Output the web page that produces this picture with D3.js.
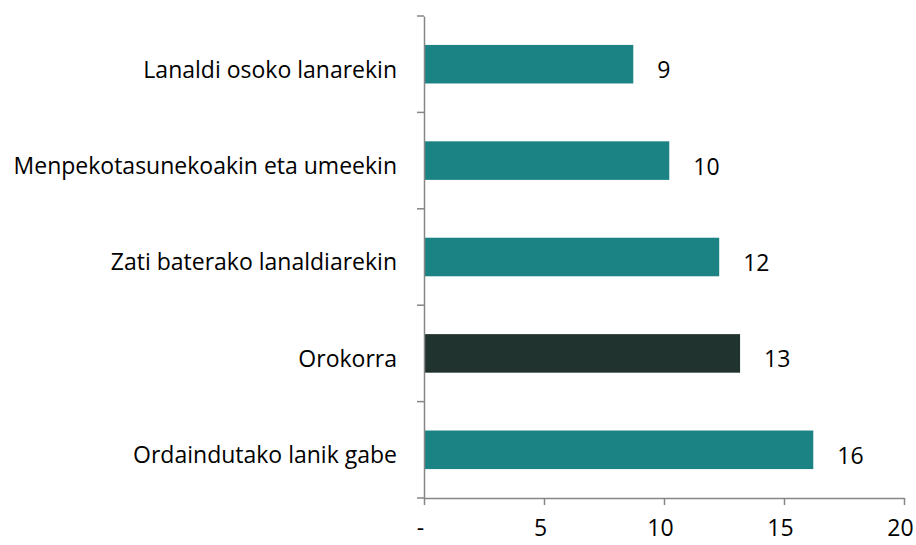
<!DOCTYPE html>
<html>
<head>
<meta charset="utf-8">
<script src="https://cdn.jsdelivr.net/npm/d3@7"></script>
<style>
  body { margin: 0; background: #fff; }
  text { font-family: "Open Sans", sans-serif; fill: #000; }
</style>
</head>
<body>
<script>
// chart data
var categories = ["Lanaldi osoko lanarekin", "Menpekotasunekoakin eta umeekin", "Zati baterako lanaldiarekin", "Orokorra", "Ordaindutako lanik gabe"];
var values = [8.72, 10.22, 12.3, 13.17, 16.22];
var highlight = [false, false, false, true, false];
var xTicks = [0, 5, 10, 15, 20];
var xTickLabels = ["-", "5", "10", "15", "20"];

var width = 916, height = 545;
var margin = {top: 16, right: 12, bottom: 47, left: 424};
var fontSize = "23px";

var svg = d3.select("body").append("svg")
  .attr("width", width)
  .attr("height", height);

var x = d3.scaleLinear().domain([0, 20]).range([margin.left, 904]);
var y = d3.scaleBand().domain(categories).range([margin.top, height - margin.bottom])
  .paddingInner(0.6).paddingOuter(0.3);

var data = categories.map(function(c, i) { return {cat: c, val: values[i], hl: highlight[i]}; });

// bars
svg.selectAll("rect.bar")
  .data(data)
  .enter().append("rect")
  .attr("class", "bar")
  .attr("x", x(0))
  .attr("y", function(d) { return y(d.cat); })
  .attr("width", function(d) { return x(d.val) - x(0); })
  .attr("height", y.bandwidth())
  .attr("fill", function(d) { return d.hl ? "#21332e" : "#1c8385"; });

// value labels
svg.selectAll("text.val")
  .data(data)
  .enter().append("text")
  .attr("class", "val")
  .attr("x", function(d) { return x(d.val) + 24; })
  .attr("y", function(d) { return y(d.cat) + y.bandwidth() / 2 + 6; })
  .attr("dy", "0.35em")
  .style("font-size", fontSize)
  .text(function(d) { return d3.format(".0f")(d.val); });

// y axis (categories)
var yAxis = d3.axisLeft(y).tickSize(0).tickPadding(27);
var gy = svg.append("g").attr("transform", "translate(" + x(0) + ",0)").call(yAxis);
gy.select(".domain").attr("stroke", "#868686").attr("stroke-width", 1.5);
gy.selectAll("text").style("font-size", fontSize).attr("fill", "#000").attr("y", 6);

// y boundary ticks between categories
var step = y.step();
var bounds = d3.range(categories.length + 1).map(function(i) { return margin.top + i * step; });
svg.selectAll("line.ytick")
  .data(bounds)
  .enter().append("line")
  .attr("class", "ytick")
  .attr("x1", x(0) - 7).attr("x2", x(0))
  .attr("y1", function(d) { return d; }).attr("y2", function(d) { return d; })
  .attr("stroke", "#868686").attr("stroke-width", 1.5);

// x axis
var xAxis = d3.axisBottom(x).tickValues(xTicks)
  .tickFormat(function(d, i) { return xTickLabels[i]; })
  .tickSize(7).tickSizeOuter(0).tickPadding(15);
var gx = svg.append("g").attr("transform", "translate(0," + (height - margin.bottom) + ")").call(xAxis);
gx.select(".domain").attr("stroke", "#868686").attr("stroke-width", 1.5);
gx.selectAll(".tick line").attr("stroke", "#868686").attr("stroke-width", 1.5);
gx.selectAll("text").style("font-size", fontSize).attr("fill", "#000").attr("x", -4);
</script>
</body>
</html>
